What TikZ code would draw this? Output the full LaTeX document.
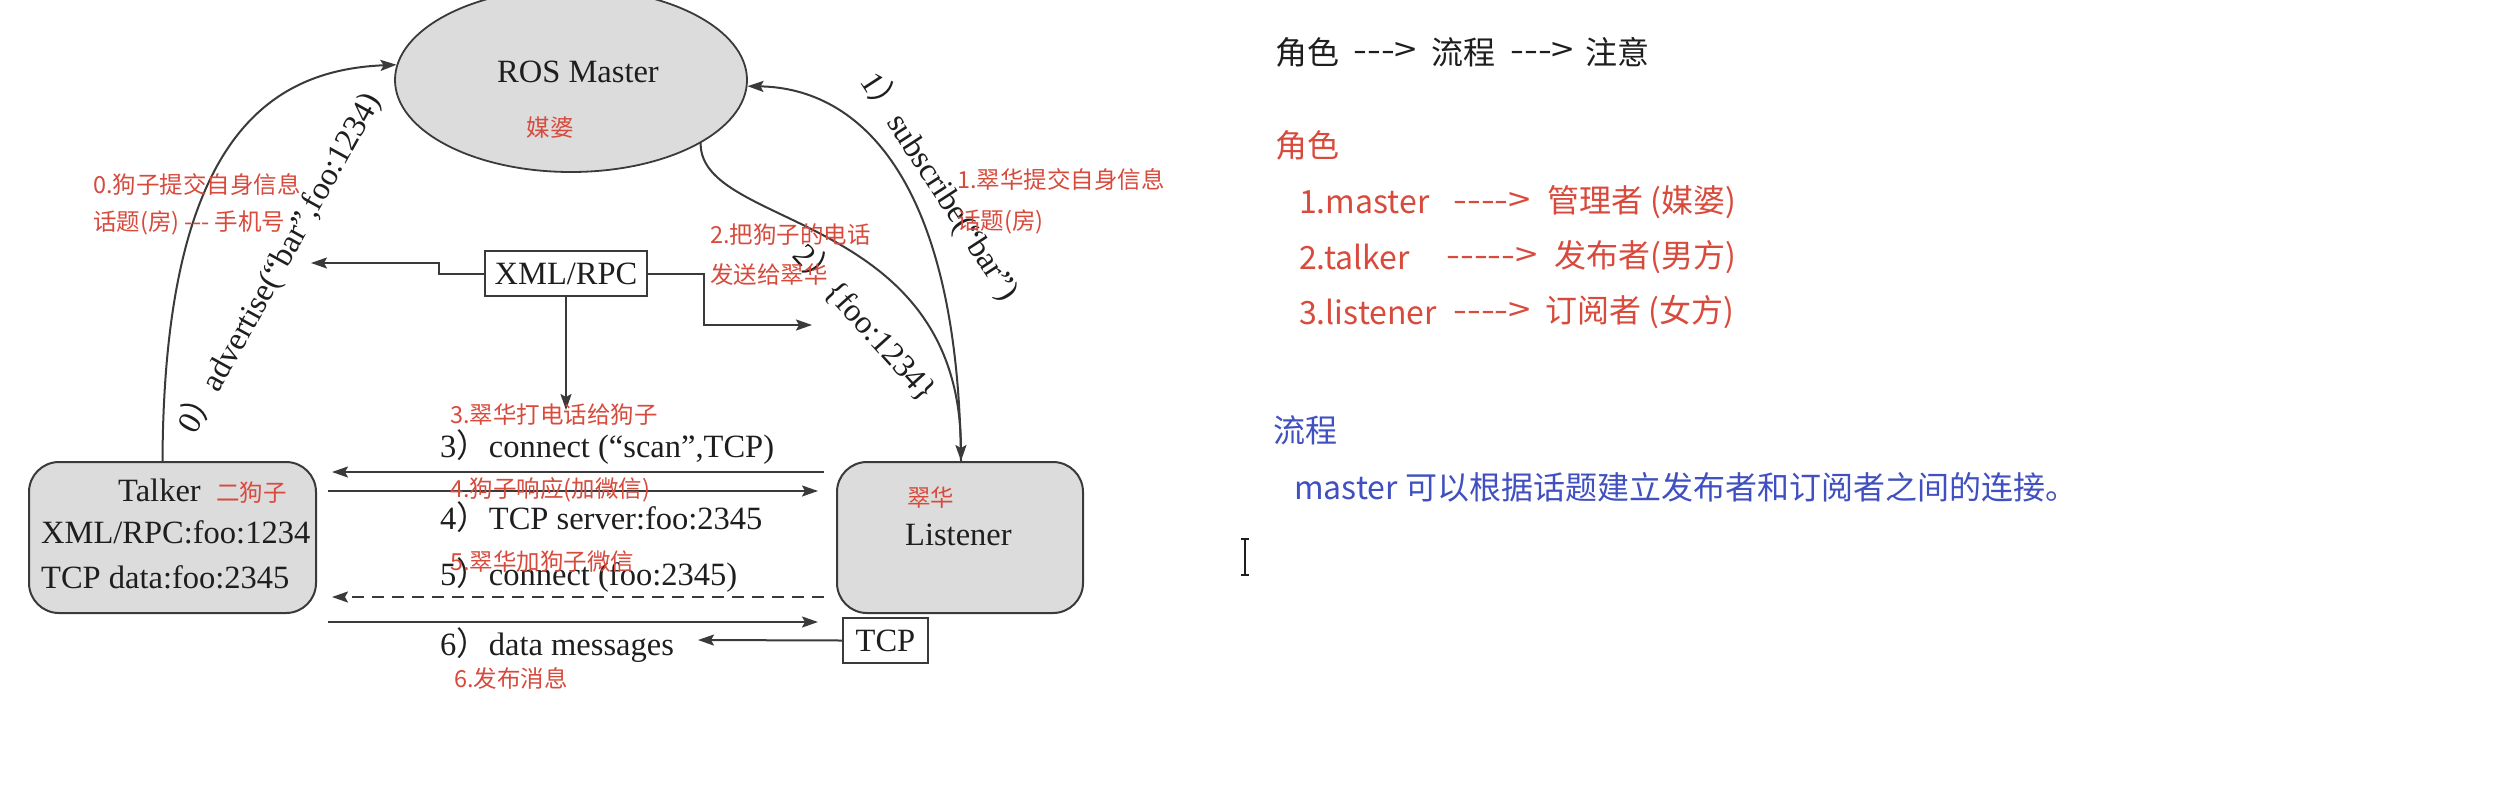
\documentclass[tikz,border=0pt]{standalone}
\usepackage{fontspec}
\setmainfont{Liberation Serif}
\newfontfamily\cjk{Noto Sans CJK SC}
\usetikzlibrary{shapes.geometric,arrows.meta}
\definecolor{redc}{HTML}{D84A3C}
\definecolor{bluec}{HTML}{4050C0}
\definecolor{txt}{HTML}{1E1E1E}
\definecolor{linec}{HTML}{3A3A3A}
\definecolor{fillc}{HTML}{DCDCDC}
\tikzset{
  lbl/.style={font=\fontsize{32.5}{39}\selectfont, text=txt, inner sep=0pt},
  ann/.style={font=\cjk\fontsize{23.5}{28}\selectfont, text=redc, inner sep=0pt, anchor=west},
  rt/.style={font=\cjk\fontsize{32}{38}\selectfont, inner sep=0pt, anchor=west},
  dsh/.style={rt, xscale=1.25},
  conn/.style={draw=linec, line width=2pt},
  arr/.style={conn, -{Stealth[length=16pt,width=11pt,inset=3pt]}},
  rbox/.style={draw=linec, line width=2pt, fill=fillc, rounded corners=30, inner sep=0pt},
  sbox/.style={draw=linec, line width=1.6pt, fill=white, inner sep=0pt},
  dashline/.style={dash pattern=on 12pt off 8pt}
}
\begin{document}
\begin{tikzpicture}[x=1pt,y=-1pt]
\useasboundingbox (0,0) rectangle (2510,804);
\fill[white] (0,0) rectangle (2510,804);

% ---- nodes ----
\node[ellipse, draw=linec, line width=1.8pt, fill=fillc, minimum width=352, minimum height=184, inner sep=0pt] (master) at (571,80) {};
\node[lbl] (mastertxt) at (578,72) {ROS Master};
\node[ann, anchor=center] (meipo) at (550,128) {媒婆};

\node[rbox, minimum width=287, minimum height=151] (talker) at (172.5,537.5) {};
\node[lbl, anchor=west] (t1) at (118,490) {Talker};
\node[ann] (t1r) at (216,493) {二狗子};
\node[lbl, anchor=west] (t2) at (41,532) {XML/RPC:foo:1234};
\node[lbl, anchor=west] (t3) at (41,577) {TCP data:foo:2345};

\node[rbox, minimum width=246, minimum height=151] (listener) at (960,537.5) {};
\node[ann] (l1r) at (907,498) {翠华};
\node[lbl, anchor=west] (l1) at (905,535) {Listener};

\node[sbox, minimum width=162, minimum height=45] (xml) at (566,273.5) {};
\node[lbl] (xmltxt) at (566,273.5) {XML/RPC};
\node[sbox, minimum width=85, minimum height=45] (tcp) at (885.5,640.5) {};
\node[lbl] (tcptxt) at (885.5,640.5) {TCP};

% ---- free ends ----
\coordinate (xl) at (311,263);
\coordinate (xr) at (812,325);
\coordinate (xd) at (566,410);
\coordinate (a1r) at (824,472);
\coordinate (a1l) at (332,472);
\coordinate (a2l) at (328,491);
\coordinate (a2r) at (818,491);
\coordinate (a3r) at (824,597);
\coordinate (a3l) at (332,597);
\coordinate (a4l) at (328,622);
\coordinate (a4r) at (818,622);
\coordinate (a5l) at (698,640);

% ---- arcs ----
\draw[arr] ([xshift=-10]talker.north) .. controls (164,140) and (268,70) .. (master.175);
\draw[arr] ([xshift=1]listener.north) .. controls (958,180) and (860,88) .. (master.-2);
\draw[arr] (master.-26) .. controls (700,230) and (960,210) .. ([xshift=1]listener.north);

% ---- XML/RPC connectors ----
\draw[arr] (xml.west) -- ++(-45,0) |- (xl);
\draw[arr] (xml.east) -- ++(56,0) |- (xr);
\draw[arr] (xml.south) -- (xd);

% ---- horizontal messages ----
\draw[arr] (a1r) -- (a1l);
\draw[arr] (a2l) -- (a2r);
\draw[arr, dashline] (a3r) -- (a3l);
\draw[arr] (a4l) -- (a4r);
\draw[arr] (tcp.west) -- (a5l);

% ---- rotated labels ----
\node[lbl, rotate=61] (adv) at (279,263) {0{\cjk ）}advertise(“bar”,foo:1234)};
\node[lbl, rotate=-57] (sub) at (940,186) {1{\cjk ）}subscribe(“bar”)};
\node[lbl, rotate=-48] (foo) at (866,322) {2{\cjk ）}\{foo:1234\}};

% ---- message labels ----
\node[lbl, anchor=west] (m3) at (440,447) {3{\cjk ）}connect (“scan”,TCP)};
\node[lbl, anchor=west] (m4) at (440,517) {4{\cjk ）}TCP server:foo:2345};
\node[lbl, anchor=west] (m5) at (440,575) {5{\cjk ）}connect (foo:2345)};
\node[lbl, anchor=west] (m6) at (440,645) {6{\cjk ）}data messages};

% ---- red annotations ----
\node[ann] (r0a) at (93,185) {0.狗子提交自身信息};
\node[ann] (r0b) at (93,223) {话题(房) --- 手机号};
\node[ann] (r1a) at (957,180) {1.翠华提交自身信息};
\node[ann] (r1b) at (957,222) {话题(房)};
\node[ann] (r2a) at (710,235) {2.把狗子的电话};
\node[ann] (r2b) at (710,275) {发送给翠华};
\node[ann] (r3) at (450,415) {3.翠华打电话给狗子};
\node[ann] (r4) at (450,490) {4.狗子响应(加微信)};
\node[ann] (r5) at (450,562) {5.翠华加狗子微信};
\node[ann] (r6) at (454,678) {6.发布消息};

% ---- cursor ----
\draw[line width=1.6pt, txt] (1241,539) -- (1249,539) (1245,539) -- (1245,575) (1241,575) -- (1249,575);

% ---- right text ----
\node[rt, text=txt] (h1) at (1275,52) {角色};
\node[dsh, text=txt] (h2) at (1353,52) {--->};
\node[rt, text=txt] (h3) at (1431,52) {流程};
\node[dsh, text=txt] (h4) at (1510,52) {--->};
\node[rt, text=txt] (h5) at (1585,52) {注意};

\node[rt, text=redc] (js) at (1275,145) {角色};
\node[rt, text=redc] (j1a) at (1299,202) {1.master};
\node[dsh, text=redc] (j1b) at (1453,202) {---->};
\node[rt, text=redc] (j1c) at (1547,202) {管理者 (媒婆)};
\node[rt, text=redc] (j2a) at (1299,257) {2.talker};
\node[dsh, text=redc] (j2b) at (1446,257) {----->};
\node[rt, text=redc] (j2c) at (1554,257) {发布者(男方)};
\node[rt, text=redc] (j3a) at (1299,312) {3.listener};
\node[dsh, text=redc] (j3b) at (1453,312) {---->};
\node[rt, text=redc] (j3c) at (1545,312) {订阅者 (女方)};

\node[rt, text=bluec] (lc) at (1273,430) {流程};
\node[rt, text=bluec] (lc1) at (1294,487) {master 可以根据话题建立发布者和订阅者之间的连接。};
\end{tikzpicture}
\end{document}
